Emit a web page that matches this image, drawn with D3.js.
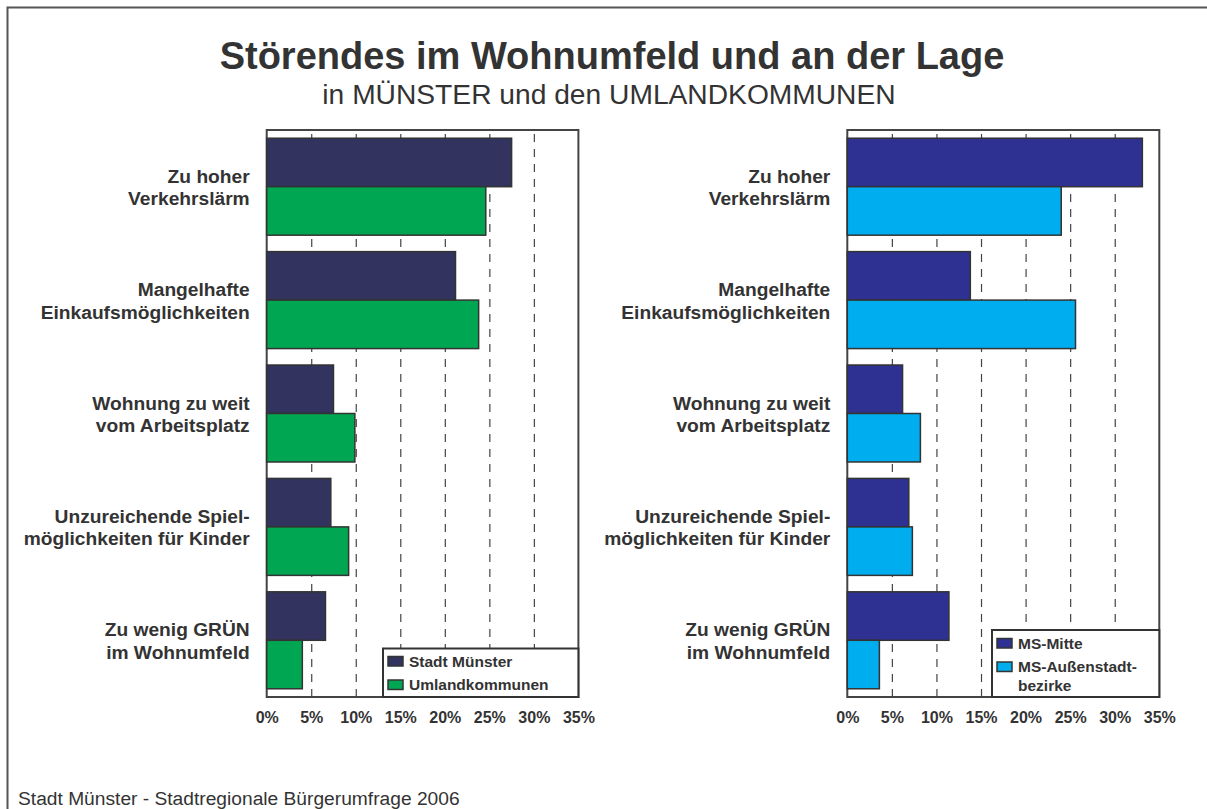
<!DOCTYPE html>
<html>
<head>
<meta charset="utf-8">
<script src="https://cdn.jsdelivr.net/npm/d3@7"></script>
<style>
  body { margin: 0; background: #fff; }
  text { font-family: "Liberation Sans", Arial, sans-serif; fill: #333; }
</style>
</head>
<body>
<main></main>
<script>
// Chart data (percent)
var categories = ["Zu hoher\nVerkehrslärm", "Mangelhafte\nEinkaufsmöglichkeiten", "Wohnung zu weit\nvom Arbeitsplatz",
                  "Unzureichende Spiel-\nmöglichkeiten für Kinder", "Zu wenig GRÜN\nim Wohnumfeld"];
var leftSeries = ["Stadt Münster", "Umlandkommunen"];
var stadtMuenster = [27.5, 21.2, 7.5, 7.2, 6.6];
var umlandkommunen = [24.6, 23.8, 9.9, 9.2, 4.0];
var rightSeries = ["MS-Mitte", "MS-Außenstadt-\nbezirke"];
var msMitte = [33.1, 13.8, 6.2, 6.9, 11.4];
var msAussenstadt = [24.0, 25.6, 8.2, 7.3, 3.6];
var xTicks = [0, 5, 10, 15, 20, 25, 30, 35];

var WIDTH = 1207;
var HEIGHT = 809;
var PLOT_TOP = 130;
var PLOT_BOTTOM = 697;

var svg = d3.select("main").append("svg")
            .attr("width", WIDTH)
            .attr("height", HEIGHT);

// outer frame (runs off the right and bottom edge)
svg.append("rect")
   .attr("x", 7.5).attr("y", 7.5)
   .attr("width", 1260).attr("height", 900)
   .style("fill", "none")
   .style("stroke", "#555")
   .style("stroke-width", 2);

svg.append("text")
   .attr("x", 612).attr("y", 69)
   .attr("text-anchor", "middle")
   .style("font-size", "38px")
   .style("font-weight", "bold")
   .text("Störendes im Wohnumfeld und an der Lage");

svg.append("text")
   .attr("x", 609).attr("y", 104)
   .attr("text-anchor", "middle")
   .style("font-size", "28.2px")
   .text("in MÜNSTER und den UMLANDKOMMUNEN");

svg.append("text")
   .attr("x", 18).attr("y", 805)
   .style("font-size", "19.2px")
   .text("Stadt Münster - Stadtregionale Bürgerumfrage 2006");

function drawPanel (left, right, seriesA, seriesB, names, colors, legend) {
    var x = d3.scaleLinear().domain([0, 35]).range([left, right]);
    var y = d3.scaleBand().domain(categories)
              .range([PLOT_TOP, PLOT_BOTTOM])
              .paddingInner(0.145).paddingOuter(0.0725);
    var g = svg.append("g");

    // dashed grid lines
    g.append("g")
     .attr("transform", "translate(0," + PLOT_BOTTOM + ")")
     .call(d3.axisBottom(x).tickValues(xTicks.slice(1, -1)).tickSize(-(PLOT_BOTTOM - PLOT_TOP)).tickFormat(""))
     .call(function (a) { a.select(".domain").remove(); })
     .selectAll("line")
     .style("stroke", "#444")
     .style("stroke-width", 1.2)
     .style("stroke-dasharray", "8,7");

    // plot frame
    g.append("rect")
     .attr("x", left).attr("y", PLOT_TOP)
     .attr("width", right - left).attr("height", PLOT_BOTTOM - PLOT_TOP)
     .style("fill", "none")
     .style("stroke", "#444")
     .style("stroke-width", 2);

    var half = y.bandwidth() / 2;
    var bars = [];
    categories.forEach(function (c, i) {
        bars.push({cat: c, v: seriesA[i], k: 0});
        bars.push({cat: c, v: seriesB[i], k: 1});
    });

    g.selectAll(".bar").data(bars).enter().append("rect")
     .attr("class", "bar")
     .attr("x", x(0))
     .attr("y", function (d) { return y(d.cat) + d.k * half; })
     .attr("width", function (d) { return x(d.v) - x(0); })
     .attr("height", half)
     .style("fill", function (d) { return colors[d.k]; })
     .style("stroke", "#333")
     .style("stroke-width", 1.5);

    // category labels
    var labels = g.selectAll(".cat").data(categories).enter().append("text")
                  .attr("class", "cat")
                  .attr("text-anchor", "end")
                  .style("font-size", "19.2px")
                  .style("font-weight", "bold");
    labels.each(function (c) {
        var t = d3.select(this);
        var cy = y(c) + half;
        c.split("\n").forEach(function (line, j) {
            t.append("tspan")
             .attr("x", left - 17)
             .attr("y", cy - 4 + j * 22.4)
             .text(line);
        });
    });

    // x axis labels
    var ax = g.append("g")
              .attr("transform", "translate(0," + PLOT_BOTTOM + ")")
              .call(d3.axisBottom(x).tickValues(xTicks).tickSize(0).tickPadding(15)
                      .tickFormat(function (d) { return d + "%"; }));
    ax.select(".domain").remove();
    ax.selectAll("text")
      .style("font-family", "'Liberation Sans', Arial, sans-serif")
      .style("font-size", "16px")
      .style("font-weight", "bold")
      .style("fill", "#333");

    // legend
    var lg = g.append("g");
    lg.append("rect")
      .attr("x", legend.x).attr("y", legend.y)
      .attr("width", right - legend.x).attr("height", PLOT_BOTTOM - legend.y)
      .style("fill", "#fff")
      .style("stroke", "#333")
      .style("stroke-width", 2);
    names.forEach(function (name, k) {
        var ty = legend.rows[k];
        lg.append("rect")
          .attr("x", legend.x + 5).attr("y", ty - 10)
          .attr("width", 15).attr("height", 9.5)
          .style("fill", colors[k])
          .style("stroke", "#333")
          .style("stroke-width", 1.5);
        var t = lg.append("text")
                  .style("font-size", "15.5px")
                  .style("font-weight", "bold");
        name.split("\n").forEach(function (line, j) {
            t.append("tspan")
             .attr("x", legend.x + 26)
             .attr("y", ty + j * 18.5)
             .text(line);
        });
    });
}

drawPanel(266.7, 578.4, stadtMuenster, umlandkommunen, leftSeries, ["#32345f", "#00a651"],
          {x: 383, y: 648.5, rows: [666.5, 690]});
drawPanel(847.3, 1159.3, msMitte, msAussenstadt, rightSeries, ["#2e3192", "#00aeef"],
          {x: 992, y: 630, rows: [648.5, 672]});
</script>
</body>
</html>
